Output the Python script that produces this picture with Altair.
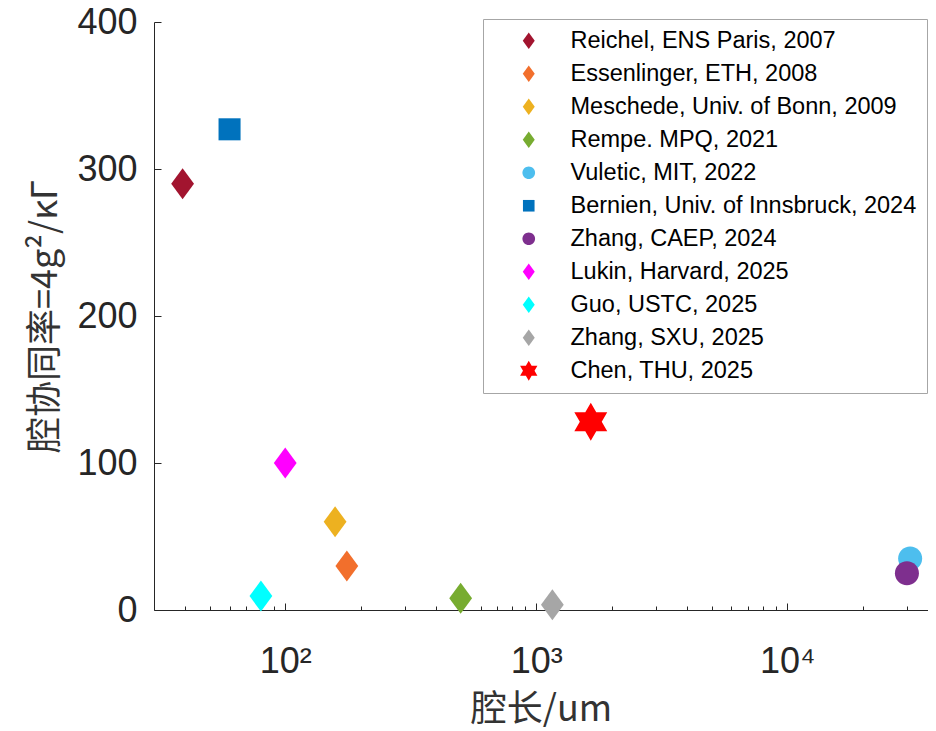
import altair as alt
import pandas as pd

series = [
    "Reichel, ENS Paris, 2007",
    "Essenlinger, ETH, 2008",
    "Meschede, Univ. of Bonn, 2009",
    "Rempe. MPQ, 2021",
    "Vuletic, MIT, 2022",
    "Bernien, Univ. of Innsbruck, 2024",
    "Zhang, CAEP, 2024",
    "Lukin, Harvard, 2025",
    "Guo, USTC, 2025",
    "Zhang, SXU, 2025",
    "Chen, THU, 2025",
]
cavity_length_um = [39, 176, 158, 500, 30900, 60, 30000, 100, 80, 1160, 1650]
cooperativity = [290, 30, 60, 8, 35, 327, 25, 100, 9.5, 3.5, 128]

x_ticks = [40, 50, 60, 70, 80, 90, 100, 200, 300, 400, 500, 600, 700, 800, 900,
           1000, 2000, 3000, 4000, 5000, 6000, 7000, 8000, 9000, 10000, 20000, 30000]
y_ticks = [0, 100, 200, 300, 400]

colors = ["#A2142F", "#F26F2C", "#EDB120", "#77AC30", "#4DBEEE", "#0072BD",
          "#7E2F8E", "#FF00FF", "#00FFFF", "#A6A6A6", "#FF0000"]

# marker outlines, relative to the star (which fills the symbol box)
DIAMOND = "M0,-0.816L0.6,0L0,0.816L-0.6,0Z"
CIRCLE = "M0.632,0A0.632,0.632,0,1,1,-0.632,0A0.632,0.632,0,1,1,0.632,0Z"
SQUARE = "M-0.58,-0.58L0.58,-0.58L0.58,0.58L-0.58,0.58Z"
HEXAGRAM = ("M0,-1L0.289,-0.5L0.866,-0.5L0.577,0L0.866,0.5L0.289,0.5L0,1"
            "L-0.289,0.5L-0.866,0.5L-0.577,0L-0.866,-0.5L-0.289,-0.5Z")
shapes = [DIAMOND, DIAMOND, DIAMOND, DIAMOND, CIRCLE, SQUARE, CIRCLE,
          DIAMOND, DIAMOND, DIAMOND, HEXAGRAM]

df = pd.DataFrame({"series": series, "len": cavity_length_um, "coop": cooperativity})

AX = "#262626"
legend = alt.Legend(
    title=None, orient="none", legendX=329, legendY=-3,
    labelFont="Liberation Sans", labelFontSize=23.5, labelColor="#000000",
    labelLimit=0, labelOffset=30, symbolSize=400, symbolOffset=24,
    padding=10, rowPadding=8, strokeColor="#A6A6A6", fillColor="white",
    symbolStrokeWidth=0, symbolOpacity=1,
)

chart = alt.Chart(df).mark_point(filled=True, opacity=1, size=1444).encode(
    x=alt.X("len:Q",
            scale=alt.Scale(type="log", domain=[30, 36400], nice=False),
            axis=alt.Axis(
                values=x_ticks,
                labelExpr="datum.value == 100 ? '10²' : datum.value == 1000 ? '10³' : datum.value == 10000 ? '10⁴' : ''",
                title="腔长/um", grid=False,
                tickSize={"condition": {"test": "datum.value == 100 || datum.value == 1000 || datum.value == 10000", "value": -7}, "value": -4},
                tickColor=AX, domainColor=AX, labelColor=AX,
                labelFont="Liberation Sans", labelFontSize=36, labelPadding=41,
                labelFlush=False, labelOverlap=False,
                titleFont="Noto Sans CJK SC", titleFontSize=36, titleFontWeight="normal",
                titleColor="#333333", titlePadding=10,
            )),
    y=alt.Y("coop:Q",
            scale=alt.Scale(domain=[0, 400], nice=False),
            axis=alt.Axis(
                values=y_ticks, title="腔协同率=4g²/κΓ", grid=False,
                tickSize={"expr": "-7"},
                tickColor=AX, domainColor=AX, labelColor=AX,
                labelFont="Liberation Sans", labelFontSize=36, labelPadding=24,
                labelFlush=False,
                titleFont="Noto Sans CJK SC", titleFontSize=36, titleFontWeight="normal",
                titleColor="#333333", titlePadding=12,
            )),
    color=alt.Color("series:N", scale=alt.Scale(domain=series, range=colors),
                    sort=series, legend=legend),
    shape=alt.Shape("series:N", scale=alt.Scale(domain=series, range=shapes),
                    sort=series, legend=legend),
).properties(
    width=774, height=588,
    autosize=alt.AutoSizeParams(type="none"),
    padding={"left": 146, "top": 14, "right": 0, "bottom": 121},
).configure_view(stroke=None)

chart.save("out.html", embed_options={"renderer": "svg", "actions": False})
